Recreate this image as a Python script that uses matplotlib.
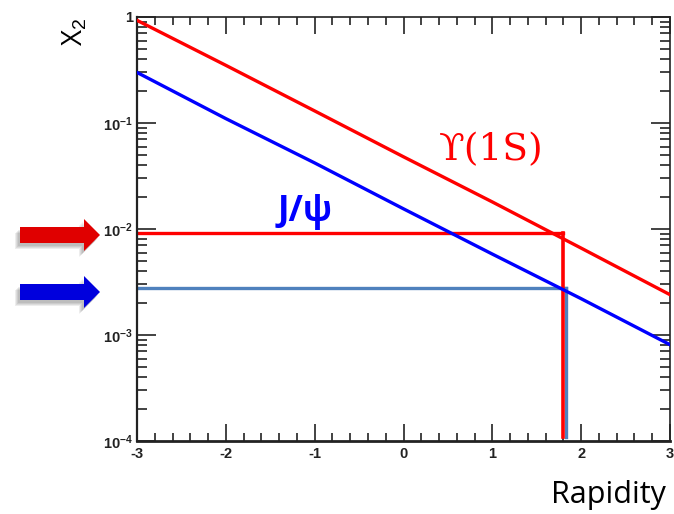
import matplotlib
matplotlib.use("Agg")
import matplotlib.pyplot as plt
from matplotlib.ticker import FixedLocator, LogLocator, MultipleLocator, NullFormatter
from matplotlib.patches import FancyArrow

# ---- data ----
rapidity = [-3, -2, -1, 0, 1, 2, 3]
x2_upsilon = [0.93, 0.35, 0.13, 0.048, 0.018, 0.0066, 0.0024]
x2_jpsi = [0.30, 0.11, 0.042, 0.0155, 0.0058, 0.0022, 0.00081]
upsilon_mark = (1.79, 0.0091)   # rapidity, x2
jpsi_mark = (1.83, 0.0028)
y_ticks = [1e-4, 1e-3, 1e-2, 1e-1, 1]
y_tick_labels = [r"$\mathbf{10^{-4}}$", r"$\mathbf{10^{-3}}$", r"$\mathbf{10^{-2}}$", r"$\mathbf{10^{-1}}$", "1"]
x_ticks = [-3, -2, -1, 0, 1, 2, 3]

plt.rcParams['mathtext.fontset'] = 'custom'
plt.rcParams['mathtext.bf'] = 'Liberation Sans:bold'
plt.rcParams['mathtext.rm'] = 'Liberation Sans'

W, H = 674, 514
fig = plt.figure(figsize=(W / 100, H / 100), dpi=100)
ax = fig.add_axes([137 / W, 1 - 441 / H, (670 - 137) / W, (441 - 17) / H])

ax.plot(rapidity, x2_upsilon, color='#ff0000', lw=2.4, zorder=3)
ax.plot(rapidity, x2_jpsi, color='#0000ff', lw=2.4, zorder=3)

# reference lines
ax.plot([-3, jpsi_mark[0]], [jpsi_mark[1], jpsi_mark[1]], color='#4f81bd', lw=2.4, zorder=2)
ax.plot([jpsi_mark[0], jpsi_mark[0]], [jpsi_mark[1], 1.1e-4], color='#4f81bd', lw=2.4, zorder=2)
ax.plot([-3, upsilon_mark[0]], [upsilon_mark[1], upsilon_mark[1]], color='#ff0000', lw=2.4, zorder=2)
ax.plot([upsilon_mark[0], upsilon_mark[0]], [upsilon_mark[1], 1.1e-4], color='#ff0000', lw=2.6, zorder=2)

ax.set_yscale('log')
ax.set_xlim(-3, 3)
ax.set_ylim(1e-4, 1)

ax.yaxis.set_major_locator(FixedLocator(y_ticks))
ax.set_yticklabels(y_tick_labels)
ax.yaxis.set_minor_locator(LogLocator(base=10, subs=range(2, 10)))
ax.yaxis.set_minor_formatter(NullFormatter())
ax.xaxis.set_major_locator(FixedLocator(x_ticks))
ax.set_xticklabels([str(v) for v in x_ticks])
ax.xaxis.set_minor_locator(MultipleLocator(0.2))

ax.tick_params(which='both', direction='in', top=True, right=True, width=1.2, colors='#222222',
               labelsize=10.5)
ax.tick_params(which='major', length=12)
ax.tick_params(which='minor', length=6)
ax.tick_params(axis='y', which='major', length=14)
ax.tick_params(axis='y', which='minor', length=7)
ax.tick_params(axis='y', pad=3)
ax.tick_params(axis='x', pad=4)
for lab in ax.get_xticklabels() + ax.get_yticklabels():
    lab.set_fontfamily('Liberation Sans')
    lab.set_fontweight('bold')
for s in ax.spines.values():
    s.set_linewidth(1.2)
    s.set_color('#222222')
ax.spines['bottom'].set_linewidth(2.0)
ax.spines['left'].set_linewidth(1.6)

# labels
fig.text(75 / W, 1 - 32 / H, r"X$_2$", rotation=90, ha='center', va='center',
         fontsize=20, family='Open Sans')
fig.text(666 / W, 1 - 495 / H, "Rapidity", ha='right', va='center', fontsize=22, family='Open Sans')
ax.text(0.40, 0.056, "\u03d2(1S)", color='#ff0000', fontsize=27, family='DejaVu Serif',
        transform=ax.transData, ha='left', va='center')
ax.text(-1.42, 0.0145, "J/\u03c8", color='#0000ff', fontsize=25, family='Open Sans',
        fontweight='bold', transform=ax.transData, ha='left', va='center')

# arrows in figure pixel coords
ov = fig.add_axes([0, 0, 1, 1], zorder=-1)
ov.set_xlim(0, W)
ov.set_ylim(H, 0)
ov.axis('off')
for yc, col in [(235, '#e00000'), (292, '#0000dd')]:
    for k in range(4):
        ov.add_patch(FancyArrow(20 - 2 - k, yc + 3 + k, 80, 0, width=16, head_width=32,
                                head_length=16, length_includes_head=True,
                                color='black', alpha=0.07, lw=0))
    ov.add_patch(FancyArrow(20, yc, 80, 0, width=16, head_width=32, head_length=16,
                            length_includes_head=True, color=col, lw=0))

fig.savefig("out.png", dpi=100)
